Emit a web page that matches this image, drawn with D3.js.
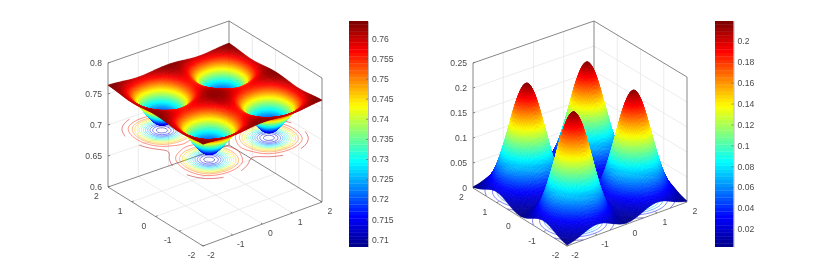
<!DOCTYPE html>
<html>
<head>
<meta charset="utf-8">
<script src="https://cdn.jsdelivr.net/npm/d3@7"></script>
<style>
  html, body { margin: 0; padding: 0; background: #fff; }
  svg { display: block; filter: blur(0.6px); }
  text { font-family: "Liberation Sans", Arial, sans-serif; font-size: 8.6px; fill: #4a4a4a; }
</style>
</head>
<body>
<script>
// Heights, one quadrant only (x, y = 0, 0.2 ... 2),
// the other three quadrants are mirror images of it.
var gridX = [0, 0.2, 0.4, 0.6, 0.8, 1, 1.2, 1.4, 1.6, 1.8, 2];

var leftZ = [
  [.7632,.7627,.7609,.7586,.7567,.7561,.7567,.7586,.7609,.7629,.7639],
  [.7627,.7619,.7593,.7561,.7534,.7525,.7534,.7561,.7593,.7622,.7636],
  [.7609,.7593,.7541,.7475,.7422,.7402,.7422,.7475,.7541,.7599,.7627],
  [.7586,.7561,.7475,.7368,.7281,.7250,.7281,.7368,.7475,.7570,.7616],
  [.7567,.7534,.7421,.7281,.7167,.7125,.7167,.7281,.7421,.7546,.7606],
  [.7561,.7525,.7402,.7250,.7125,.7080,.7125,.7250,.7402,.7538,.7603],
  [.7567,.7534,.7421,.7281,.7167,.7125,.7167,.7281,.7421,.7546,.7606],
  [.7586,.7561,.7475,.7368,.7281,.7250,.7281,.7368,.7475,.7570,.7616],
  [.7609,.7593,.7541,.7475,.7422,.7402,.7422,.7475,.7541,.7599,.7627],
  [.7629,.7622,.7599,.7570,.7546,.7538,.7546,.7570,.7599,.7625,.7637],
  [.7639,.7636,.7627,.7616,.7606,.7603,.7606,.7616,.7627,.7637,.7642]
];

var rightZ = [
  [.0031,.0051,.0108,.0177,.0234,.0257,.0234,.0178,.0112,.0059,.0026],
  [.0051,.0086,.0180,.0295,.0391,.0428,.0390,.0296,.0187,.0098,.0043],
  [.0108,.0180,.0378,.0620,.0821,.0899,.0820,.0622,.0393,.0206,.0090],
  [.0177,.0295,.0620,.1019,.1348,.1477,.1347,.1022,.0645,.0339,.0148],
  [.0234,.0391,.0821,.1348,.1790,.1975,.1788,.1352,.0854,.0448,.0196],
  [.0257,.0428,.0899,.1477,.1975,.2170,.1973,.1481,.0935,.0491,.0215],
  [.0234,.0390,.0820,.1347,.1788,.1973,.1786,.1351,.0853,.0448,.0196],
  [.0178,.0296,.0622,.1022,.1352,.1481,.1351,.1025,.0647,.0340,.0149],
  [.0112,.0187,.0393,.0645,.0854,.0935,.0853,.0647,.0409,.0215,.0094],
  [.0059,.0098,.0206,.0339,.0448,.0491,.0448,.0340,.0215,.0113,.0049],
  [.0026,.0043,.0090,.0148,.0196,.0215,.0196,.0149,.0094,.0049,.0022]
];

var xyTicks = [-2, -1, 0, 1, 2];
var leftZTicks = [0.6, 0.65, 0.7, 0.75, 0.8];
var rightZTicks = [0, 0.05, 0.1, 0.15, 0.2, 0.25];
var leftBarTicks = [0.71, 0.715, 0.72, 0.725, 0.73, 0.735, 0.74, 0.745, 0.75, 0.755, 0.76];
var rightBarTicks = [0.02, 0.04, 0.06, 0.08, 0.1, 0.12, 0.14, 0.16, 0.18, 0.2];
var leftLevels = [.7105, .7145, .7185, .7225, .7265, .7305, .7345, .7385, .7425, .7465, .7505, .7555, .7608];
var rightLevels = [.014, .034, .054, .074, .094, .114, .134, .154, .174, .194];

var jetStops = ["#00008f", "#0000ff", "#00ffff", "#ffff00", "#ff0000", "#800000"];
var jetPos = [0, 0.125, 0.375, 0.625, 0.875, 1];
var jet = d3.scaleLinear().domain(jetPos).range(jetStops).clamp(true);

var svg = d3.select("body").append("svg").attr("width", 830).attr("height", 277);

var SUB = 7; // cells drawn per data cell, stands in for matlab's shading interp

function catmull(a, b, c, d, t) {
  return b + 0.5 * t * (c - a + t * (2 * a - 5 * b + 4 * c - d + t * (3 * (b - c) + d - a)));
}

// look up a height anywhere in [-2,2]^2 from the quadrant table
function heightAt(z, x, y) {
  var step = gridX[1] - gridX[0], last = gridX.length - 1;
  var fx = Math.abs(x) / step, fy = Math.abs(y) / step;
  var i = Math.min(Math.floor(fx), last - 1), j = Math.min(Math.floor(fy), last - 1);
  var tx = fx - i, ty = fy - j;
  function idx(k) { return k < 0 ? -k : (k > last ? last : k); }
  var rows = [-1, 0, 1, 2].map(function(dj) {
    var r = z[idx(j + dj)];
    return catmull(r[idx(i - 1)], r[idx(i)], r[idx(i + 1)], r[idx(i + 2)], tx);
  });
  return catmull(rows[0], rows[1], rows[2], rows[3], ty);
}

function drawPanel(p) {
  var g = svg.append("g");
  var xs = d3.scaleLinear().domain([-2, 2]).range([0, 1]);
  var ys = d3.scaleLinear().domain([-2, 2]).range([0, 1]);
  var zs = d3.scaleLinear().domain(p.zDomain).range([0, p.zHeight]);
  var colorT = d3.scaleLinear().domain(p.barDomain).range([0, 1]).clamp(true);

  function project(x, y, z) {
    var u = xs(x), v = ys(y);
    var px = (1 - u) * (1 - v) * p.front[0] + u * (1 - v) * p.right[0] + (1 - u) * v * p.left[0] + u * v * p.back[0];
    var py = (1 - u) * (1 - v) * p.front[1] + u * (1 - v) * p.right[1] + (1 - u) * v * p.left[1] + u * v * p.back[1];
    return [px, py - zs(z)];
  }
  function colorOf(z) {
    return jet(colorT(z));
  }
  function line3(pts, cls) {
    g.append("path")
      .attr("d", d3.line()(pts.map(function(q) { return project(q[0], q[1], q[2]); })))
      .attr("fill", "none")
      .attr("stroke", cls == "grid" ? "#e4e4e4" : "#6a6a6a")
      .attr("stroke-width", cls == "grid" ? 0.7 : 0.8);
  }

  var z0 = p.zDomain[0], z1 = p.zDomain[1];

  // grid on the floor and the two back walls
  xyTicks.slice(1, 4).forEach(function(t) {
    line3([[t, -2, z0], [t, 2, z0], [t, 2, z1]], "grid");
    line3([[-2, t, z0], [2, t, z0], [2, t, z1]], "grid");
  });
  p.zTicks.slice(1, -1).forEach(function(t) {
    line3([[-2, 2, t], [2, 2, t], [2, -2, t]], "grid");
  });

  // box
  line3([[-2, 2, z0], [-2, 2, z1], [2, 2, z1], [2, -2, z1], [2, -2, z0]], "box");
  line3([[2, 2, z0], [2, 2, z1]], "box");
  line3([[-2, 2, z0], [-2, -2, z0], [2, -2, z0], [2, 2, z0], [-2, 2, z0]], "box");

  // tick marks
  xyTicks.forEach(function(t) {
    line3([[t, -2, z0], [t, -1.93, z0]], "box");
    line3([[-2, t, z0], [-1.93, t, z0]], "box");
  });
  p.zTicks.forEach(function(t) {
    line3([[-2, 2, t], [-1.93, 2, t]], "box");
  });

  // tick labels
  xyTicks.forEach(function(t) {
    var a = project(t, -2, z0);
    g.append("text").attr("x", a[0] + 8).attr("y", a[1] + 12).attr("text-anchor", "middle").text(t);
    var b = project(-2, t, z0);
    g.append("text").attr("x", b[0] - 11.5).attr("y", b[1] + 12).attr("text-anchor", "middle").text(t);
  });
  p.zTicks.forEach(function(t) {
    var a = project(-2, 2, t);
    g.append("text").attr("x", a[0] - 6).attr("y", a[1] + 3).attr("text-anchor", "end").text(t);
  });

  // contours on the plane below the surface
  var size = 81, values = [];
  for (var jj = 0; jj < size; jj++) {
    for (var ii = 0; ii < size; ii++) {
      values.push(heightAt(p.z, -2 + ii * 0.05, -2 + jj * 0.05));
    }
  }
  var contours = d3.contours().size([size, size]).thresholds(p.levels)(values);
  var onEdge = function(q) { return q[0] <= 0.5 || q[0] >= size - 0.5 || q[1] <= 0.5 || q[1] >= size - 0.5; };
  var contourLine = d3.line()
    .defined(function(q) { return !onEdge(q); })
    .x(function(q) { return project(-2 + (q[0] - 0.5) * 0.05, -2 + (q[1] - 0.5) * 0.05, p.contourZ)[0]; })
    .y(function(q) { return project(-2 + (q[0] - 0.5) * 0.05, -2 + (q[1] - 0.5) * 0.05, p.contourZ)[1]; });
  g.append("g").selectAll("path")
    .data(contours)
    .enter().append("path")
      .attr("fill", "none")
      .attr("stroke", function(c) { return colorOf(c.value); })
      .attr("stroke-width", 0.6)
      .attr("stroke-opacity", 0.85)
      .attr("d", function(c) {
        return c.coordinates.map(function(poly) {
          return poly.map(function(ring) { return contourLine(ring); }).join("");
        }).join("");
      });

  // surface, cells painted back to front
  var n = (gridX.length - 1) * 2 * SUB, cells = [];
  var dx = 4 / n;
  var heights = [];
  for (var j = 0; j <= n; j++) {
    heights.push([]);
    for (var i = 0; i <= n; i++) {
      heights[j].push(heightAt(p.z, -2 + i * dx, -2 + j * dx));
    }
  }
  for (j = 0; j < n; j++) {
    for (i = 0; i < n; i++) {
      cells.push([i, j]);
    }
  }
  cells.sort(function(a, b) {
    return (23.75 * b[0] + 29.75 * b[1]) - (23.75 * a[0] + 29.75 * a[1]);
  });
  g.append("g").selectAll("path")
    .data(cells)
    .enter().append("path")
      .attr("d", function(c) {
        var i = c[0], j = c[1], x = -2 + i * dx, y = -2 + j * dx;
        var q = [
          project(x, y, heights[j][i]),
          project(x + dx, y, heights[j][i + 1]),
          project(x + dx, y + dx, heights[j + 1][i + 1]),
          project(x, y + dx, heights[j + 1][i])
        ];
        return "M" + q.map(function(w) { return w[0].toFixed(2) + "," + w[1].toFixed(2); }).join("L") + "Z";
      })
      .each(function(c) {
        var i = c[0], j = c[1];
        var col = colorOf((heights[j][i] + heights[j][i + 1] + heights[j + 1][i] + heights[j + 1][i + 1]) / 4);
        d3.select(this).attr("fill", col).attr("stroke", col);
      })
      .attr("stroke-width", 0.5);

  // colorbar
  var barY = d3.scaleLinear().domain(p.barDomain).range([p.barBottom, p.barTop]);
  var bands = d3.range(64);
  var bh = (p.barBottom - p.barTop) / 64;
  var bar = svg.append("g");
  bar.selectAll("rect")
    .data(bands)
    .enter().append("rect")
      .attr("x", p.barX)
      .attr("width", p.barW)
      .attr("y", function(d) { return p.barBottom - (d + 1) * bh; })
      .attr("height", bh + 0.3)
      .attr("fill", function(d) { return jet(d / 63); });
  var axis = bar.append("g")
    .attr("transform", "translate(" + (p.barX + p.barW) + ",0)")
    .call(d3.axisRight(barY).tickValues(p.barTicks).tickSizeInner(-2).tickSizeOuter(0).tickPadding(4).tickFormat(function(d) { return +d.toFixed(3); }));
  axis.select(".domain").attr("stroke", "#888").attr("stroke-width", 0.6);
  axis.selectAll(".tick line").attr("stroke", "#555").attr("stroke-width", 0.6);
  axis.attr("font-size", null).attr("font-family", null);
}

drawPanel({
  z: leftZ, zDomain: [0.6, 0.8], zHeight: 124, zTicks: leftZTicks,
  left: [108, 187], right: [322, 202], front: [203, 246], back: [229, 145],
  levels: leftLevels, contourZ: 0.698,
  barDomain: [0.7082, 0.7643], barTop: 21, barBottom: 246.7, barX: 349, barW: 19, barTicks: leftBarTicks
});

drawPanel({
  z: rightZ, zDomain: [0, 0.25], zHeight: 125, zTicks: rightZTicks,
  left: [473, 188], right: [687, 202], front: [567, 246], back: [594, 146],
  levels: rightLevels, contourZ: 0,
  barDomain: [0.003, 0.219], barTop: 21, barBottom: 246.7, barX: 715, barW: 18.5, barTicks: rightBarTicks
});
</script>
</body>
</html>
